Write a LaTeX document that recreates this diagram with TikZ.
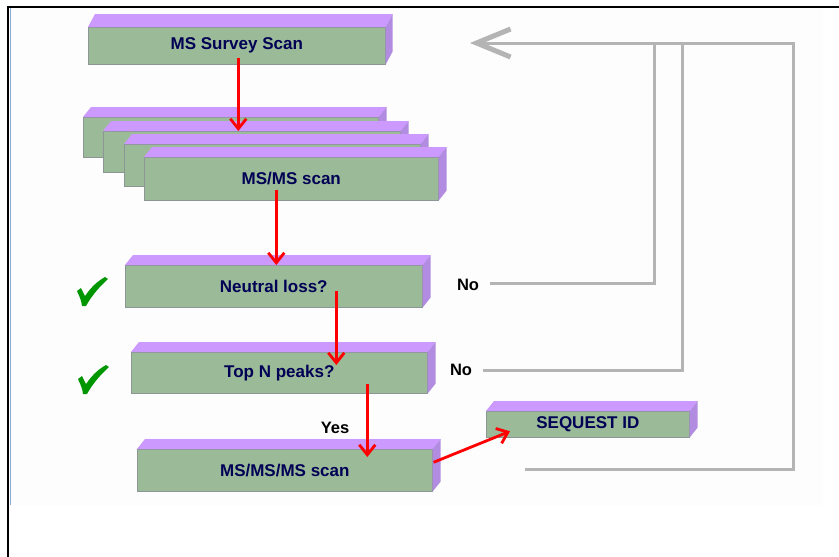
\documentclass[tikz,border=0pt]{standalone}
\usepackage{fontspec}
\setmainfont{Liberation Sans}
\usetikzlibrary{arrows.meta,calc}

\definecolor{slabfront}{RGB}{155,187,152}
\definecolor{slabtop}{RGB}{204,153,255}
\definecolor{slabside}{RGB}{178,140,224}
\definecolor{slabedge}{RGB}{140,150,150}
\definecolor{labelnavy}{RGB}{0,0,85}
\definecolor{loopgrey}{RGB}{180,180,180}
\definecolor{tickgreen}{RGB}{0,150,0}
\definecolor{panelfill}{RGB}{253,253,253}
\definecolor{panelrule}{RGB}{140,170,210}

\tikzset{
  slab/.style={fill=slabfront, draw=slabedge, line width=0.6pt, inner sep=0pt,
    anchor=north west, font=\fontsize{17}{19}\selectfont\bfseries, text=labelnavy},
  flow/.style={draw=red, line width=2.8pt,
    -{Straight Barb[length=10pt,width=16pt,line width=2.8pt]}},
  loop/.style={draw=loopgrey, line width=3pt},
  loopback/.style={loop, -{Straight Barb[length=34pt,width=28pt,line width=5pt]}},
  answer/.style={font=\fontsize{16.5}{18}\selectfont\bfseries, inner sep=0pt},
  tickmark/.pic={
    \fill[tickgreen] (-15,-1) .. controls (-13,-3) .. (-11,-4)
      -- (-7,4) .. controls (0,-6) and (6,-11) .. (13,-15)
      -- (16,-13) .. controls (6,-4) and (-1,5) .. (-6,14)
      -- (-10,14) .. controls (-11,8) .. (-15,-1) -- cycle;
  },
}

% top and right faces of a 3D bar
\newcommand\slabfaces[1]{%
  \fill[slabtop] (#1.north west) -- ++(8,-10) -- ($(#1.north east)+(8,-10)$) -- (#1.north east) -- cycle;
  \fill[slabside] (#1.north east) -- ++(8,-10) -- ($(#1.south east)+(8,-10)$) -- (#1.south east) -- cycle;}

\begin{document}
\begin{tikzpicture}[x=1pt,y=-1pt]
\useasboundingbox (0,0) rectangle (839,557);

% panel and frame
\fill[panelfill] (10,8) rectangle (823,505);
\draw[panelrule, line width=0.8pt] (10.8,8) -- (10.8,505);
\draw[line width=2.5pt] (8,557) -- (8,7) -- (839,7);

% bars
\node[slab, minimum width=297pt, minimum height=37pt] (survey) at (88,27) {MS Survey Scan};
\fill[slabtop] (survey.north west) -- ++(7,-13) -- ($(survey.north east)+(7,-13)$) -- (survey.north east) -- cycle;
\fill[slabside] (survey.north east) -- ++(7,-13) -- ($(survey.south east)+(7,-13)$) -- (survey.south east) -- cycle;

\node[slab, minimum width=295pt, minimum height=40pt] (scanA) at (83,117) {};
\slabfaces{scanA}
\node[slab, minimum width=297pt, minimum height=41pt] (scanB) at (103,131) {};
\slabfaces{scanB}
\node[slab, minimum width=296pt, minimum height=42pt] (scanC) at (124,144) {};
\slabfaces{scanC}
\node[slab, minimum width=294pt, minimum height=43pt] (scanD) at (144,157) {MS/MS scan};
\slabfaces{scanD}

\node[slab, minimum width=297pt, minimum height=42pt] (neutral) at (125,265) {Neutral loss?};
\slabfaces{neutral}
\node[slab, minimum width=296pt, minimum height=41pt] (topn) at (131,352) {Top N peaks?};
\slabfaces{topn}
\node[slab, minimum width=295pt, minimum height=42pt] (ms3) at (137,449) {MS/MS/MS scan};
\slabfaces{ms3}
\node[slab, minimum width=203pt, minimum height=26pt] (sequest) at (486,411) {SEQUEST ID};
\slabfaces{sequest}

% labels and ticks
\node[answer] (no1) at (468,285) {No};
\node[answer] (no2) at (461,370) {No};
\node[answer] (yes) at (335,428) {Yes};
\pic (tick1) at (92,292) {tickmark};
\pic (tick2) at (93,380) {tickmark};

% feedback lines
\coordinate (j1) at (654,43);
\coordinate (j2) at (682,43);
\coordinate (j3) at (793,43);
\coordinate (loopin) at (470,43);
\coordinate (loopfree) at (525,469);
\draw[loop] ([shift={(11,-2)}]no1.east) -| (j1);
\draw[loop] ([shift={(11,0)}]no2.east) -| (j2);
\draw[loopback] (loopfree) -| (j3) -- (loopin);

% flow arrows
\draw[flow] ([shift={(1.5,-7)}]survey.south) -- ([shift={(-13.5,0)}]scanB.north);
\draw[flow] ([shift={(-15,-11)}]scanD.south) -- ([shift={(2.5,0)}]neutral.north);
\draw[flow] ([shift={(62.5,-17)}]neutral.south) -- ([shift={(57,13)}]topn.north);
\draw[flow] ([shift={(88,-10)}]topn.south) -- ([shift={(82.5,8)}]ms3.north);
\draw[flow] ([shift={(1,-8)}]ms3.east) -- ([shift={(24,7)}]sequest.west);
\end{tikzpicture}
\end{document}
